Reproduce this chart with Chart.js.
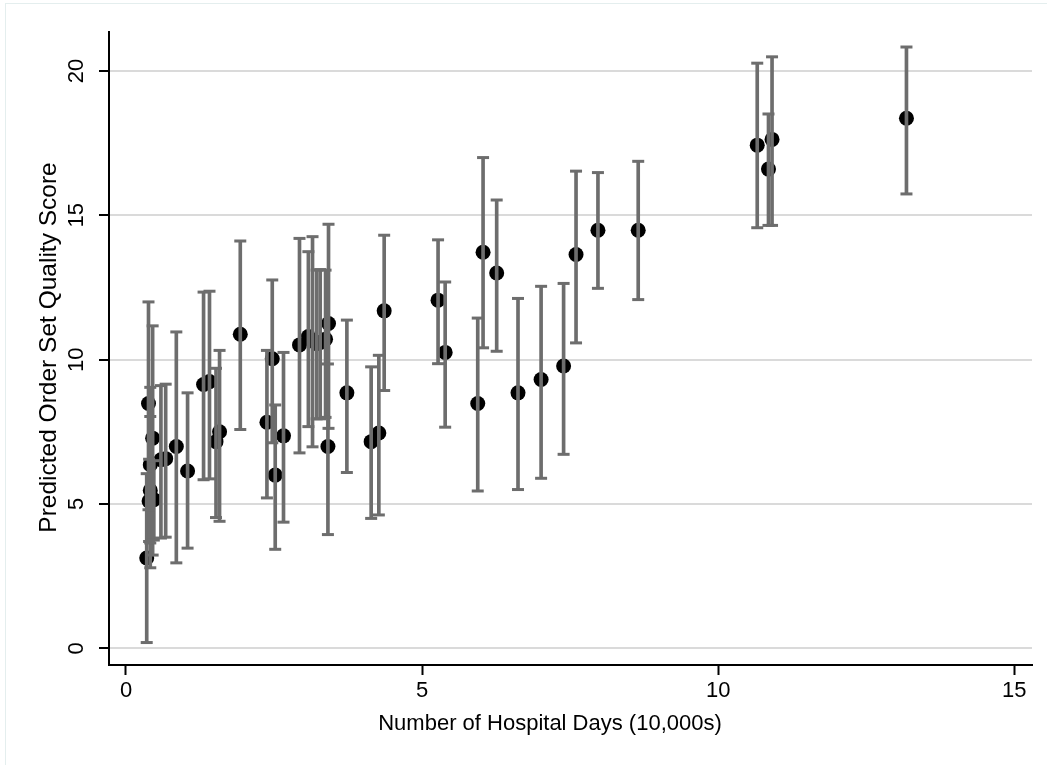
<!DOCTYPE html>
<html><head><meta charset="utf-8">
<script src="https://cdn.jsdelivr.net/npm/chart.js@4.4.0/dist/chart.umd.min.js"></script>
<style>
html,body{margin:0;padding:0;background:#fff;}
#wrap{position:relative;width:1047px;height:765px;overflow:hidden;}
canvas{position:absolute;left:0;top:0;}
#frame{position:absolute;left:5px;top:3px;right:-2px;bottom:-2px;border-left:1px solid #e4eeee;border-top:1px solid #e4eeee;pointer-events:none;}
</style></head><body>
<div id="wrap"><canvas id="c" width="1047" height="765"></canvas><div id="frame"></div></div>
<script>
// Number of hospital days (10,000s)
const xVals = [0.35,0.38,0.45,0.41,0.41,0.39,0.47,0.59,0.67,0.85,1.04,1.31,1.41,1.52,1.58,1.93,2.38,2.47,2.52,2.66,2.93,3.08,3.15,3.22,3.28,3.37,3.42,3.41,3.73,4.14,4.27,4.36,5.27,5.39,5.94,6.03,6.26,6.62,7.01,7.39,7.60,7.97,8.65,10.66,10.85,10.91,13.18];
// Predicted order set quality score
const yVals = [3.13,8.48,7.28,6.36,5.47,5.10,5.15,6.53,6.57,6.99,6.14,9.14,9.24,7.16,7.50,10.88,7.83,10.03,6.00,7.36,10.51,10.80,10.65,10.55,10.60,10.71,11.25,6.99,8.85,7.16,7.46,11.69,12.06,10.25,8.48,13.72,13.00,8.85,9.31,9.78,13.64,14.48,14.48,17.43,16.60,17.63,18.36];
// Lower and upper confidence limits
const loVals = [0.20,4.80,3.23,3.65,2.79,3.70,3.75,3.82,3.85,2.96,3.47,5.84,5.87,4.53,4.40,7.58,5.21,7.12,3.43,4.37,6.77,7.68,6.98,7.95,7.95,8.00,7.62,3.94,6.09,4.50,4.62,8.93,9.86,7.66,5.45,10.41,10.29,5.50,5.89,6.72,10.58,12.47,12.08,14.57,14.65,14.65,15.74];
const hiVals = [6.05,12.00,11.17,9.04,8.03,6.55,6.50,9.10,9.15,10.96,8.85,12.34,12.37,9.70,10.32,14.11,10.32,12.76,8.43,10.25,14.20,13.74,14.26,13.10,13.12,13.10,14.69,9.85,11.37,9.75,10.15,14.31,14.15,12.69,11.44,17.00,15.53,12.12,12.54,12.64,16.53,16.48,16.87,20.27,18.51,20.49,20.83];
const xTicks = [0,5,10,15];
const yTicks = [0,5,10,15,20];
const xTitle = 'Number of Hospital Days (10,000s)';
const yTitle = 'Predicted Order Set Quality Score';

const FONT = '"Liberation Sans", Arial, Helvetica, sans-serif';
const GRAY = '#6d6d6d';

const titlePlugin = {
  id: 'axisTitles',
  afterDraw(chart) {
    const ctx = chart.ctx;
    ctx.save();
    ctx.fillStyle = '#000';
    ctx.textAlign = 'center';
    ctx.textBaseline = 'alphabetic';
    ctx.font = '22px ' + FONT;
    ctx.fillText(xTitle, 550, 730);
    ctx.translate(56, 347.5);
    ctx.rotate(-Math.PI / 2);
    ctx.font = '24.5px ' + FONT;
    ctx.fillText(yTitle, 0, 0);
    ctx.restore();
  }
};

new Chart(document.getElementById('c'), {
  type: 'scatter',
  data: {
    datasets: [
      {
        type: 'scatter',
        data: xVals.map((x, i) => ({x: x, y: yVals[i]})),
        pointRadius: 7.5,
        pointHoverRadius: 7.5,
        backgroundColor: '#000',
        borderWidth: 0,
        order: 2
      },
      {
        type: 'bar',
        data: xVals.map((x, i) => ({x: x, y: [loVals[i], hiVals[i]]})),
        backgroundColor: GRAY,
        borderWidth: 0,
        barThickness: 3,
        grouped: false,
        order: 1
      },
      {
        type: 'scatter',
        data: xVals.map((x, i) => ({x: x, y: loVals[i]})),
        pointStyle: 'line',
        pointRadius: 6,
        borderColor: GRAY,
        borderWidth: 3,
        order: 0
      },
      {
        type: 'scatter',
        data: xVals.map((x, i) => ({x: x, y: hiVals[i]})),
        pointStyle: 'line',
        pointRadius: 6,
        borderColor: GRAY,
        borderWidth: 3,
        order: 0
      }
    ]
  },
  options: {
    responsive: false,
    animation: false,
    devicePixelRatio: 1,
    layout: {padding: {left: 0, right: 15, top: 32, bottom: 0}},
    plugins: {legend: {display: false}, tooltip: {enabled: false}},
    scales: {
      x: {
        type: 'linear',
        min: -0.287,
        max: 15.3,
        offset: false,
        afterBuildTicks: s => { s.ticks = xTicks.map(v => ({value: v})); },
        afterFit: s => { s.height = 100; },
        grid: {offset: false, drawOnChartArea: false, drawTicks: true, tickLength: 10, tickWidth: 2, tickColor: '#000'},
        border: {display: true, color: '#000', width: 2},
        ticks: {color: '#000', font: {family: FONT, size: 22}, padding: 3, autoSkip: false, minRotation: 0, maxRotation: 0}
      },
      y: {
        type: 'linear',
        min: -0.578,
        max: 21.35,
        afterBuildTicks: s => { s.ticks = yTicks.map(v => ({value: v})); },
        afterFit: s => { s.width = 109; },
        grid: {color: '#dadada', lineWidth: 2, drawTicks: true, tickLength: 10, tickWidth: 2, tickColor: '#000'},
        border: {display: true, color: '#000', width: 2},
        ticks: {color: '#000', font: {family: FONT, size: 22}, padding: 10, minRotation: 90, maxRotation: 90, crossAlign: 'center', autoSkip: false}
      }
    }
  },
  plugins: [titlePlugin]
});
</script>
</body></html>
